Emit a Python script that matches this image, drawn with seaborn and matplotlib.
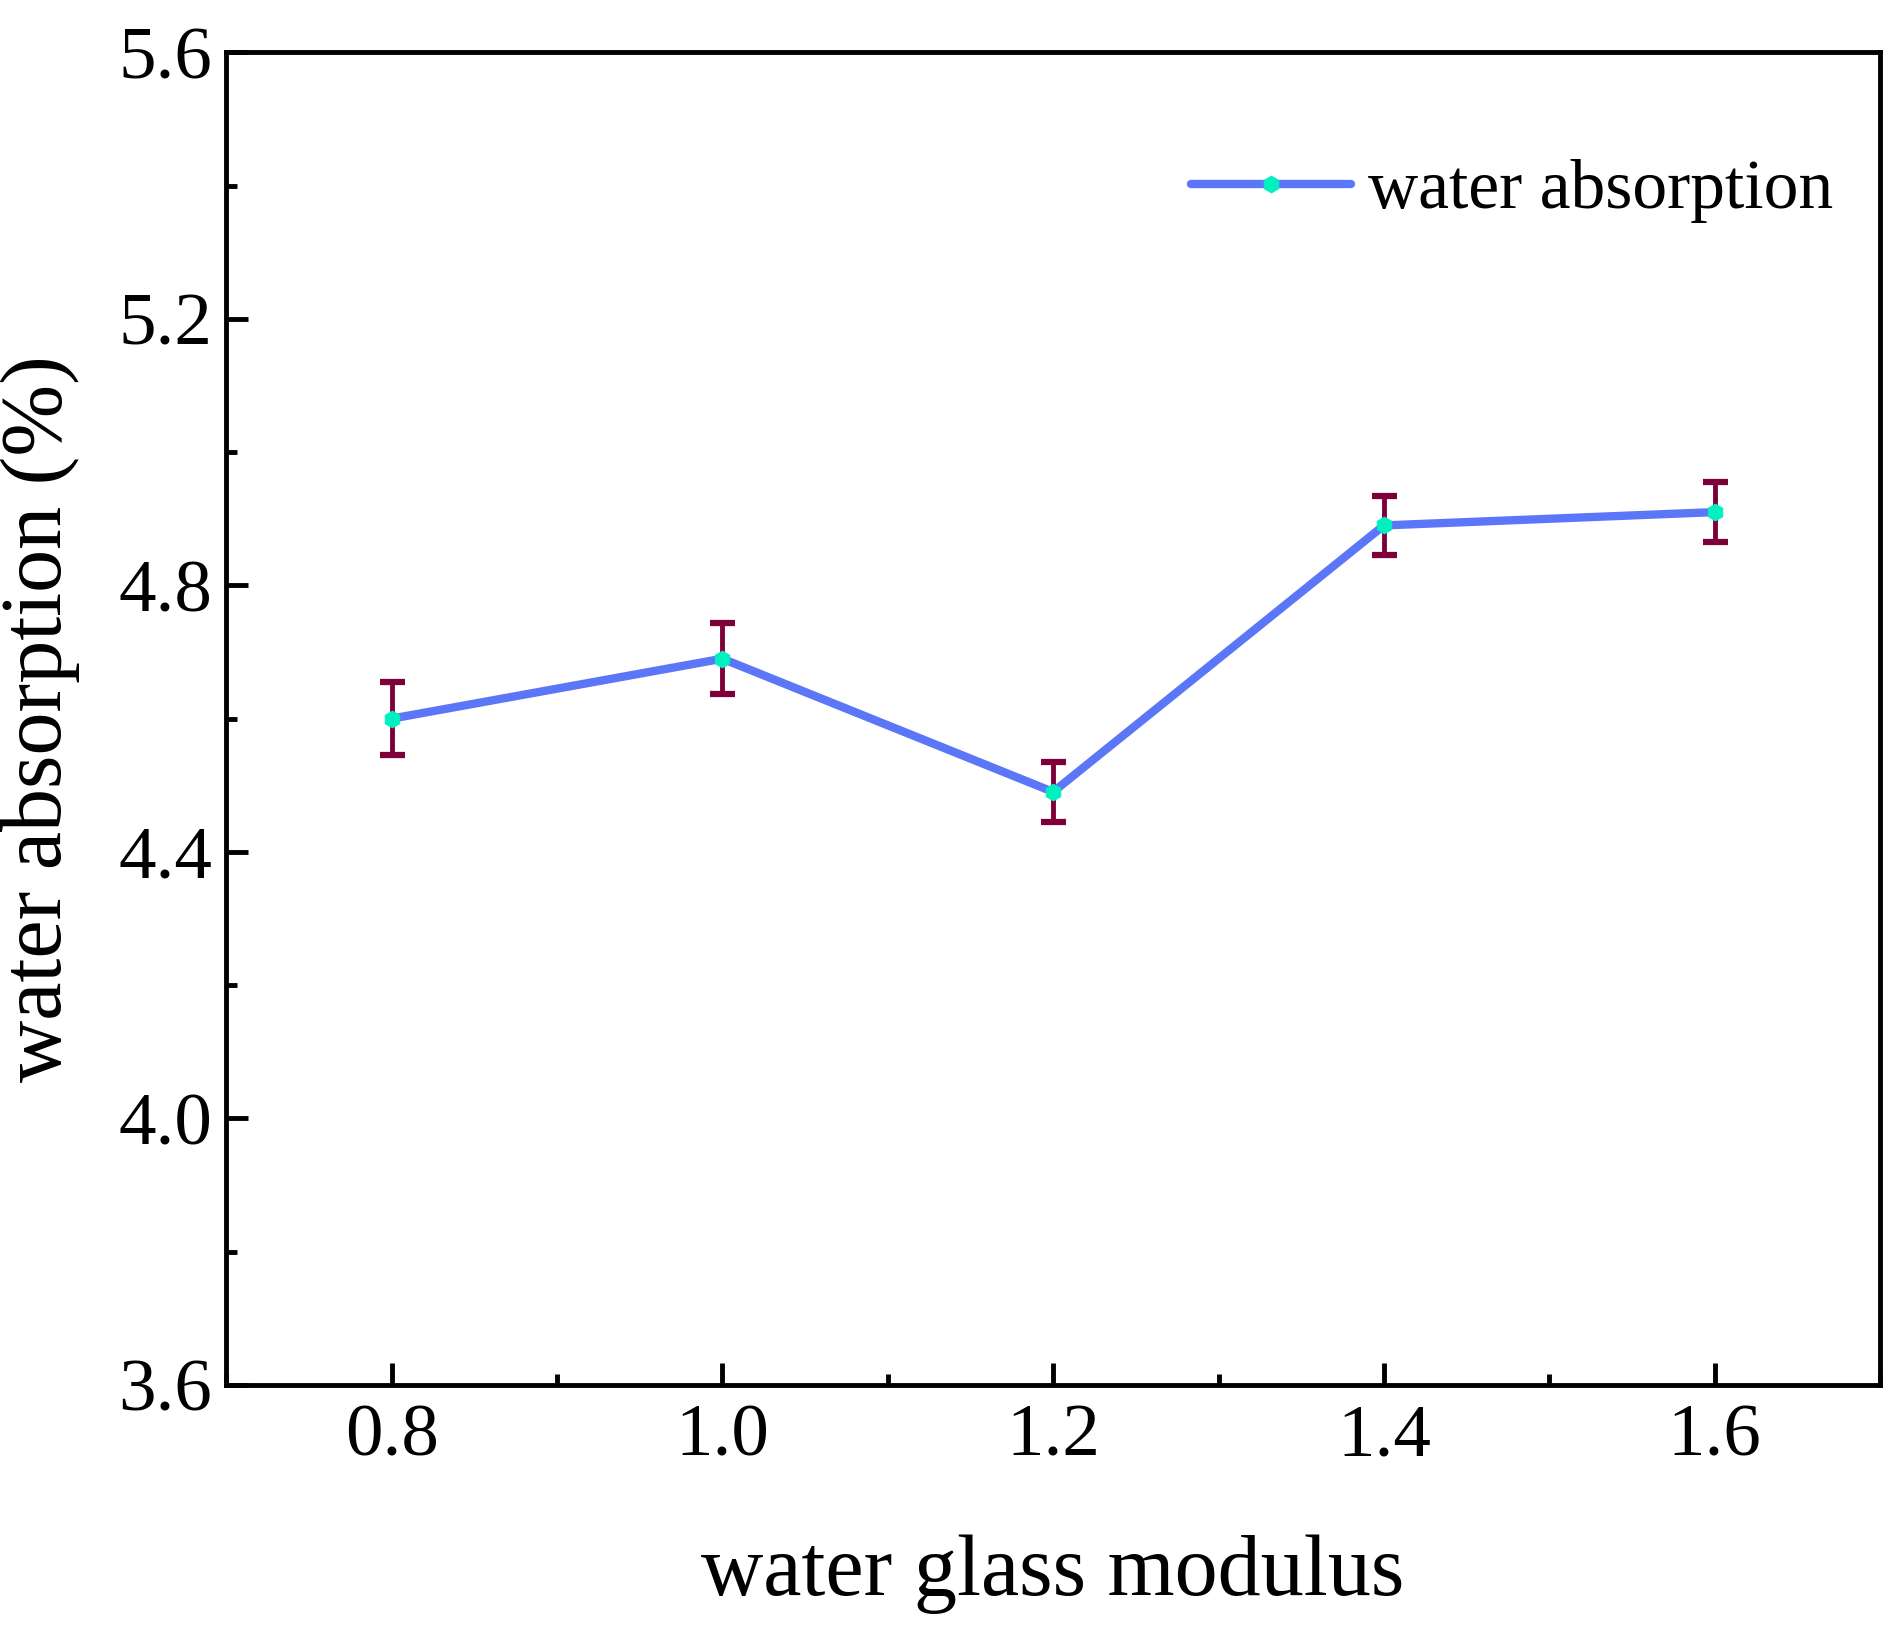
import pandas as pd
import matplotlib
matplotlib.use("Agg")
import matplotlib.pyplot as plt
import seaborn as sns
from matplotlib.ticker import MultipleLocator, FormatStrFormatter

# values
modulus = [0.8, 1.0, 1.2, 1.4, 1.6]
absorption = [4.60, 4.69, 4.49, 4.89, 4.91]
absorption_err = [0.055, 0.053, 0.045, 0.044, 0.045]

df = pd.DataFrame({"modulus": modulus, "absorption": absorption, "err": absorption_err})

sns.set_style("ticks")
plt.rcParams['font.family'] = ['Liberation Serif', 'DejaVu Serif']
plt.rcParams['text.color'] = 'black'
plt.rcParams['axes.labelcolor'] = 'black'
plt.rcParams['xtick.color'] = 'black'
plt.rcParams['ytick.color'] = 'black'

fig = plt.figure(figsize=(19.01, 16.37), dpi=100)
ax = fig.add_axes([0.119, 0.154, 0.870, 0.814])

# error bars first, line on top
ax.errorbar(df["modulus"], df["absorption"], yerr=df["err"], fmt='none',
            ecolor='#7d0039', elinewidth=3.5, capsize=9, capthick=4.5, zorder=2)

sns.lineplot(data=df, x="modulus", y="absorption", ax=ax, color='#5b76f7',
             linewidth=6, marker='h', markersize=12, markerfacecolor='#00f0c0',
             markeredgecolor='#00f0c0', label='water absorption', zorder=3)

ax.set_xlim(0.7, 1.7)
ax.set_ylim(3.6, 5.6)
ax.xaxis.set_major_locator(MultipleLocator(0.2))
ax.xaxis.set_minor_locator(MultipleLocator(0.1))
ax.yaxis.set_major_locator(MultipleLocator(0.4))
ax.yaxis.set_minor_locator(MultipleLocator(0.2))
ax.xaxis.set_major_formatter(FormatStrFormatter('%.1f'))
ax.yaxis.set_major_formatter(FormatStrFormatter('%.1f'))

ax.tick_params(which='major', direction='in', length=16, width=3.5, labelsize=54, pad=14)
ax.tick_params(which='minor', direction='in', length=8, width=3.5)
ax.tick_params(top=False, right=False, which='both')
ax.tick_params(axis='y', pad=10)

for s in ax.spines.values():
    s.set_linewidth(3.5)
    s.set_color('black')

ax.set_xlabel('water glass modulus', fontsize=62, labelpad=45)
ax.set_ylabel('water absorption (%)', fontsize=62, labelpad=28)

leg = ax.legend(loc='upper right', frameon=False, fontsize=50,
                handlelength=2.3, handletextpad=0.25, borderaxespad=0.2,
                bbox_to_anchor=(0.997, 0.951))

fig.savefig('out.png', dpi=100)
